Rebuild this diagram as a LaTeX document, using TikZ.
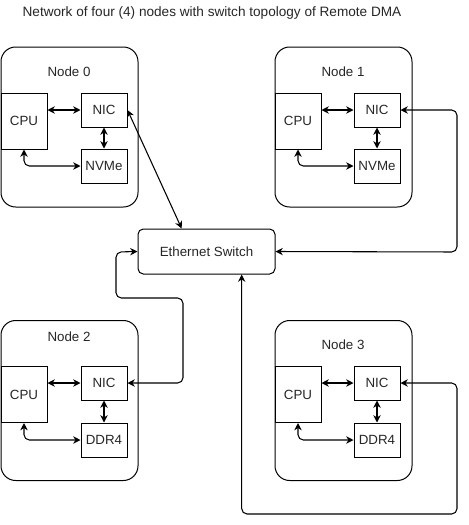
\documentclass[tikz,border=0pt]{standalone}
\usepackage{fontspec}
\setmainfont{Liberation Sans}
\usepackage{tikz}
\usetikzlibrary{arrows.meta,calc}

\begin{document}
\begin{tikzpicture}[x=0.75pt, y=-0.75pt, >={Stealth[length=5.5pt,width=5.5pt]},
  font=\fontsize{10}{12}\selectfont, text=black!85,
  host/.style={draw, line width=0.75pt, rounded corners=11pt, minimum width=102.75pt, minimum height=120pt},
  part/.style={draw, line width=0.75pt, minimum width=34.5pt, minimum height=25.5pt},
  link/.style={<->, line width=0.8pt, rounded corners=4pt}]
  \useasboundingbox (0,0) rectangle (468,525);

  \node at (212,13) {\fontsize{10.2}{12}\selectfont Network of four (4) nodes with switch topology of Remote DMA};

  % switch
  \node[draw, line width=0.75pt, rounded corners=4pt, minimum width=102.75pt, minimum height=33.75pt] (sw) at (206.5,251.5) {Ethernet Switch};

  % node 0
  \node[host] (h0) at (69.5,127) {};
  \node at (69,72) {Node 0};
  \node[part, minimum height=42pt] (cpu0) at (24,121) {CPU};
  \node[part] (nic0) at (104,110) {NIC};
  \node[part] (mem0) at (104,166) {NVMe};

  % node 1
  \node[host] (h1) at (343.5,127) {};
  \node at (343,72) {Node 1};
  \node[part, minimum height=42pt] (cpu1) at (298,121) {CPU};
  \node[part] (nic1) at (377,110) {NIC};
  \node[part] (mem1) at (377,166) {NVMe};

  % node 2
  \node[host] (h2) at (69.5,400.5) {};
  \node at (69,337) {Node 2};
  \node[part, minimum height=42pt] (cpu2) at (24,394.5) {CPU};
  \node[part] (nic2) at (104,383) {NIC};
  \node[part] (mem2) at (104,440) {DDR4};

  % node 3
  \node[host] (h3) at (343.5,400.5) {};
  \node at (343,345) {Node 3};
  \node[part, minimum height=42pt] (cpu3) at (298,394.5) {CPU};
  \node[part] (nic3) at (377,383) {NIC};
  \node[part] (mem3) at (377,440) {DDR4};

  % inside the nodes
  \foreach \i in {0,1,2,3} {
    \draw[link] (cpu\i.east |- nic\i.west) -- (nic\i.west);
    \draw[link] (nic\i) -- (mem\i);
    \draw[link] (cpu\i.south) |- (mem\i.west);
  }

  % to the switch
  \draw[link] (nic0.east) -- ($(sw.north west)!0.32!(sw.north east)$);
  \draw[link] (nic1.east) -| (457,252) -- (sw.east);
  \draw[link] (nic2.east) -| (183,298) -| (116,252) -- (sw.west);
  \draw[link] (nic3.east) -| (457,514) -| ($(sw.south west)!0.755!(sw.south east)$);
\end{tikzpicture}
\end{document}
